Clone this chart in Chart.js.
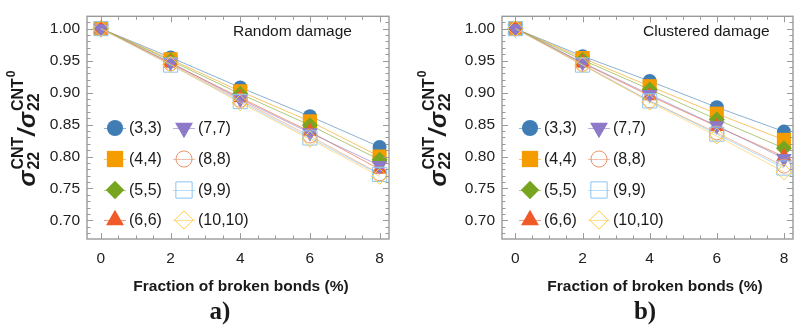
<!DOCTYPE html>
<html><head><meta charset="utf-8">
<script src="https://cdn.jsdelivr.net/npm/chart.js@4.4.1/dist/chart.umd.min.js"></script>
<style>
html,body{margin:0;padding:0;background:#fff;}
#wrap{position:relative;width:804px;height:328px;overflow:hidden;background:#fff;}
.pane{position:absolute;top:0;height:328px;}
</style></head><body>
<div id="wrap">
<div class="pane" style="left:0;width:400px"><canvas id="cA" width="400" height="328"></canvas></div>
<div class="pane" style="left:400px;width:404px"><canvas id="cB" width="404" height="328"></canvas></div>
</div>
<script>
// ---------- data ----------
const fractions = [0, 2, 4, 6, 8];
const seriesLabels = ['(3,3)', '(4,4)', '(5,5)', '(6,6)', '(7,7)', '(8,8)', '(9,9)', '(10,10)'];
const xTicks = [0, 2, 4, 6, 8];
const yTicks = [0.70, 0.75, 0.80, 0.85, 0.90, 0.95, 1.00];

// Random damage
const random33   = [1.000, 0.955, 0.908, 0.863, 0.815];
const random44   = [1.000, 0.952, 0.902, 0.855, 0.800];
const random55   = [1.000, 0.950, 0.898, 0.849, 0.795];
const random66   = [1.000, 0.946, 0.892, 0.839, 0.780];
const random77   = [1.000, 0.947, 0.890, 0.837, 0.786];
const random88   = [1.000, 0.945, 0.888, 0.832, 0.773];
const random99   = [1.000, 0.943, 0.886, 0.829, 0.772];
const random1010 = [1.000, 0.944, 0.884, 0.827, 0.769];

// Clustered damage
const clustered33   = [1.000, 0.957, 0.918, 0.877, 0.839];
const clustered44   = [1.000, 0.954, 0.910, 0.867, 0.826];
const clustered55   = [1.000, 0.951, 0.905, 0.858, 0.813];
const clustered66   = [1.000, 0.946, 0.895, 0.847, 0.800];
const clustered77   = [1.000, 0.947, 0.897, 0.848, 0.797];
const clustered88   = [1.000, 0.944, 0.887, 0.837, 0.785];
const clustered99   = [1.000, 0.943, 0.887, 0.835, 0.782];
const clustered1010 = [1.000, 0.943, 0.885, 0.832, 0.776];

const randomSeries = [random33, random44, random55, random66, random77, random88, random99, random1010];
const clusteredSeries = [clustered33, clustered44, clustered55, clustered66, clustered77, clustered88, clustered99, clustered1010];

// ---------- styles ----------
const FONT = "'Liberation Sans', Arial, sans-serif";
const styles = [
  {color: '#3F7DB4', pointStyle: 'circle',   r: 7,   filled: true},
  {color: '#F59C00', pointStyle: 'rect',     r: 10,  filled: true},
  {color: '#78A51F', pointStyle: 'rectRot',  r: 8,   filled: true},
  {color: '#F05A28', pointStyle: 'triangle', r: 9,   filled: true},
  {color: '#8C79C8', pointStyle: 'triangle', r: 9,   filled: true, rotation: 180},
  {color: '#E8956A', pointStyle: 'circle',   r: 7,   filled: false},
  {color: '#8CC6F2', pointStyle: 'rect',     r: 10,  filled: false},
  {color: '#FFCC45', pointStyle: 'rectRot',  r: 8,   filled: false}
];
function rgba(hex, a) {
  const n = parseInt(hex.slice(1), 16);
  return `rgba(${(n >> 16) & 255},${(n >> 8) & 255},${n & 255},${a})`;
}

const panels = [
  {canvas: 'cA', series: randomSeries, title: 'Random damage', titleX: 233, letter: 'a)', letterX: 220,
   yAxisWidth: 87, padRight: 10, yTitleX: 27, xTitleX: 241},
  {canvas: 'cB', series: clusteredSeries, title: 'Clustered damage', titleX: 243, letter: 'b)', letterX: 245,
   yAxisWidth: 102, padRight: 1, yTitleX: 38, xTitleX: 255}
];

// ---------- plugins ----------
const framePlugin = {
  id: 'frameTicks',
  afterDatasetsDraw(chart) {
    const {ctx, chartArea: a, scales: {x, y}} = chart;
    ctx.save();
    ctx.strokeStyle = '#9a9a9a';
    ctx.lineWidth = 1;
    for (let k = 68; k <= 101; k++) {
      const py = Math.round(y.getPixelForValue(k / 100)) + 0.5;
      if (py < a.top || py > a.bottom) continue;
      const len = k % 5 === 0 ? 6 : 3.5;
      ctx.beginPath();
      ctx.moveTo(a.left, py); ctx.lineTo(a.left + len, py);
      ctx.moveTo(a.right, py); ctx.lineTo(a.right - len, py);
      ctx.stroke();
    }
    for (let k = 0; k <= 16; k++) {
      const px = Math.round(x.getPixelForValue(k / 2)) + 0.5;
      const len = k % 4 === 0 ? 6 : 3.5;
      ctx.beginPath();
      ctx.moveTo(px, a.bottom); ctx.lineTo(px, a.bottom - len);
      ctx.moveTo(px, a.top); ctx.lineTo(px, a.top + len);
      ctx.stroke();
    }
    ctx.lineWidth = 1.4;
    ctx.strokeRect(a.left, a.top, a.right - a.left, a.bottom - a.top);
    ctx.restore();
  }
};

const textPlugin = {
  id: 'texts',
  afterDraw(chart) {
    const p = chart.options.plugins.texts;
    const {ctx, chartArea: a} = chart;
    ctx.save();
    ctx.fillStyle = '#1a1a1a';
    ctx.font = `15.5px ${FONT}`;
    ctx.textAlign = 'left'; ctx.textBaseline = 'middle';
    ctx.fillText(p.title, p.titleX, 32);
    ctx.font = `bold 15.5px ${FONT}`;
    ctx.textAlign = 'center';
    ctx.fillText('Fraction of broken bonds (%)', p.xTitleX, 287);
    ctx.font = "bold 25px 'Liberation Serif', 'Times New Roman', serif";
    ctx.fillText(p.letter, p.letterX, 313);

    // y title (rotated)
    const mainF = `italic bold 24px ${FONT}`;
    const smallF = `bold 16px ${FONT}`;
    const tinyF = `bold 12px ${FONT}`;
    const segs = [
      {t: 'σ', f: mainF},
      {stack: true},
      {t: '/', f: mainF},
      {t: 'σ', f: mainF},
      {stack: true, extra: '0'}
    ];
    ctx.font = smallF;
    const wCNT = ctx.measureText('CNT').width;
    const w22 = ctx.measureText('22').width;
    ctx.font = tinyF;
    const w0 = ctx.measureText('0').width;
    let total = 0;
    segs.forEach(s => {
      if (s.stack) { s.w = Math.max(wCNT, w22) + (s.extra ? w0 + 1 : 0) + 1; }
      else { ctx.font = s.f; s.w = ctx.measureText(s.t).width + 1; }
      total += s.w;
    });
    ctx.translate(p.yTitleX, 128);
    ctx.rotate(-Math.PI / 2);
    ctx.textAlign = 'left'; ctx.textBaseline = 'alphabetic';
    let cx = -total / 2;
    const base = 8;
    segs.forEach(s => {
      if (s.stack) {
        ctx.font = smallF;
        ctx.fillText('CNT', cx, base - 12);
        ctx.fillText('22', cx, base + 4);
        if (s.extra) { ctx.font = tinyF; ctx.fillText(s.extra, cx + wCNT + 1, base - 20); }
      } else {
        ctx.font = s.f; ctx.fillText(s.t, cx, base);
      }
      cx += s.w;
    });
    ctx.restore();

    // legend
    ctx.save();
    const rows = [128, 159, 190, 220];
    const cols = [a.left + 28, a.left + 97];
    chart.data.datasets.forEach((ds, i) => {
      const mx = cols[Math.floor(i / 4)];
      const my = rows[i % 4];
      ctx.strokeStyle = ds.borderColor; ctx.lineWidth = 1;
      ctx.beginPath(); ctx.moveTo(mx - 11, my + 0.5); ctx.lineTo(mx + 11, my + 0.5); ctx.stroke();
      ctx.fillStyle = ds.pointBackgroundColor; ctx.strokeStyle = ds.pointBorderColor;
      ctx.lineWidth = ds.pointBorderWidth || 1;
      Chart.helpers.drawPoint(ctx, {
        pointStyle: ds.pointStyle, rotation: ds.pointRotation, radius: ds.pointRadius * 1.15,
        borderWidth: ds.pointBorderWidth
      }, mx, my);
      ctx.fillStyle = '#1a1a1a';
      ctx.font = `16px ${FONT}`;
      ctx.textAlign = 'left'; ctx.textBaseline = 'middle';
      ctx.fillText(ds.label, mx + 14, my + 1);
    });
    ctx.restore();
  }
};

// ---------- charts ----------
panels.forEach(p => {
  const datasets = p.series.map((vals, i) => {
    const s = styles[i];
    return {
      label: seriesLabels[i],
      data: fractions.map((fx, j) => ({x: fx, y: vals[j]})),
      showLine: true,
      tension: 0,
      borderColor: rgba(s.color, 0.6),
      borderWidth: 1,
      pointStyle: s.pointStyle,
      pointRotation: s.rotation || 0,
      pointRadius: s.r,
      pointHoverRadius: s.r,
      pointBackgroundColor: s.filled ? s.color : 'rgba(255,255,255,0)',
      pointBorderColor: s.color,
      pointBorderWidth: s.filled ? 0 : 1,
      order: -i,
      clip: false
    };
  });
  new Chart(document.getElementById(p.canvas), {
    type: 'scatter',
    data: {datasets},
    options: {
      responsive: false,
      animation: false,
      devicePixelRatio: 1,
      layout: {padding: {top: 10, right: p.padRight, left: 0, bottom: 0}},
      plugins: {
        legend: {display: false},
        tooltip: {enabled: false},
        texts: {title: p.title, titleX: p.titleX, letter: p.letter, letterX: p.letterX,
                yTitleX: p.yTitleX, xTitleX: p.xTitleX}
      },
      scales: {
        x: {
          type: 'linear', min: -0.4, max: 8.27,
          grid: {display: false, drawTicks: false}, border: {display: false},
          afterBuildTicks: s => { s.ticks = xTicks.map(v => ({value: v})); },
          afterFit: s => { s.height = 89; },
          ticks: {padding: 10, color: '#222', maxRotation: 0, autoSkip: false,
                  font: {family: FONT, size: 15.5}, callback: v => String(v)}
        },
        y: {
          type: 'linear', min: 0.671, max: 1.0193,
          grid: {display: false, drawTicks: false}, border: {display: false},
          afterBuildTicks: s => { s.ticks = yTicks.map(v => ({value: v})); },
          afterFit: s => { s.width = p.yAxisWidth; },
          ticks: {padding: 7, color: '#222', autoSkip: false,
                  font: {family: FONT, size: 15.5}, callback: v => Number(v).toFixed(2)}
        }
      }
    },
    plugins: [framePlugin, textPlugin]
  });
});
</script>
</body></html>
